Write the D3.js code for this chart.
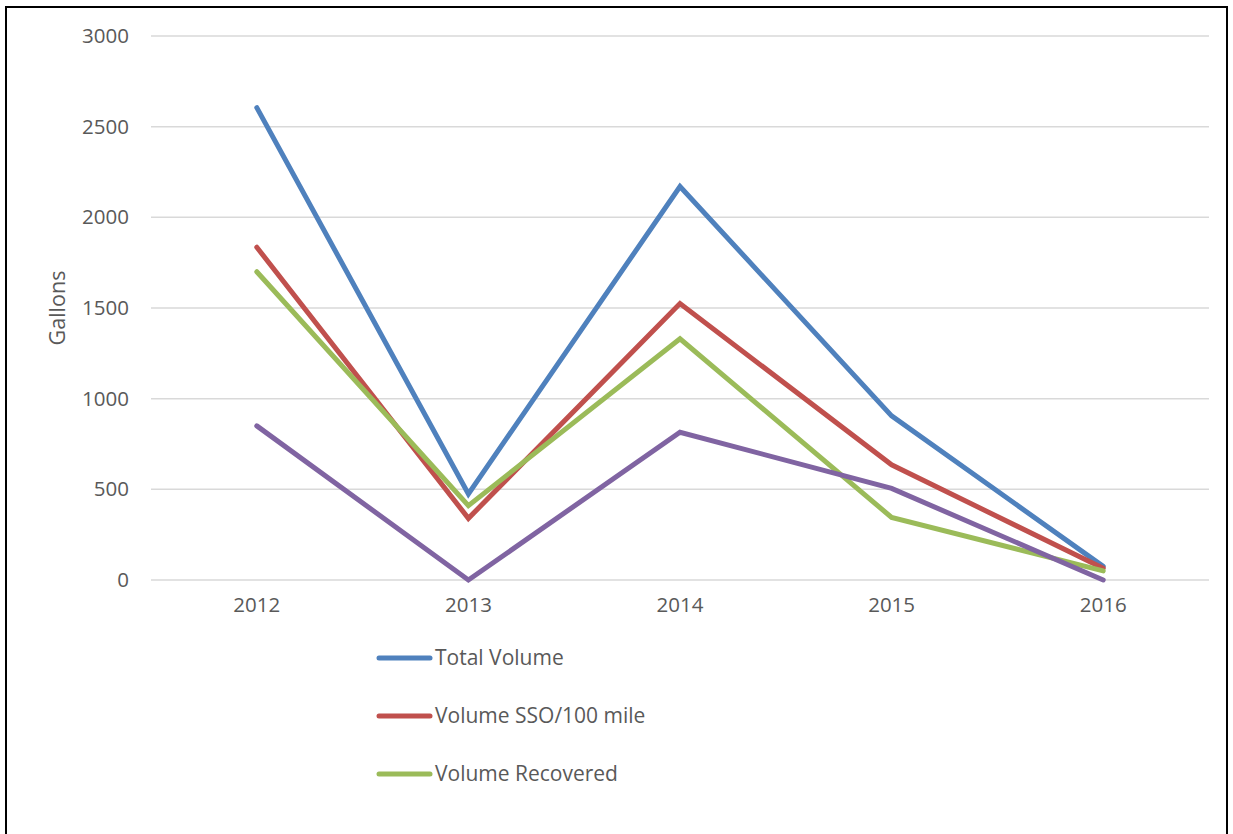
<!DOCTYPE html>
<html><head><meta charset="utf-8">
<script src="https://cdn.jsdelivr.net/npm/d3@7"></script>
<style>body{margin:0;background:#fff}svg{display:block}</style>
</head><body>
<script>
const categories = ["2012","2013","2014","2015","2016"];
const totalVolume = [2605, 475, 2170, 905, 75];
const volumeSSO = [1835, 340, 1525, 635, 65];
const volumeRecovered = [1700, 410, 1330, 345, 50];
const volumeOther = [850, 0, 815, 505, 0];
const yTicks = [0, 500, 1000, 1500, 2000, 2500, 3000];
const seriesNames = ["Total Volume", "Volume SSO/100 mile", "Volume Recovered", ""];
const seriesColors = ["#4F81BD", "#C0504D", "#9BBB59", "#8064A2"];
const seriesData = [totalVolume, volumeSSO, volumeRecovered, volumeOther];

const W = 1233, H = 834;
const svg = d3.select("body").append("svg").attr("width", W).attr("height", H);
const font = "'Open Sans', sans-serif";
const txt = "#595959";

svg.append("rect").attr("x", 6).attr("y", 7).attr("width", 1221).attr("height", 900)
  .attr("fill", "none").attr("stroke", "#000").attr("stroke-width", 2);

const x = d3.scaleBand().domain(categories).range([151, 1209]);
const y = d3.scaleLinear().domain([0, 3000]).range([580, 36]);

const grid = svg.append("g");
grid.selectAll("line").data(yTicks).join("line")
  .attr("x1", 151).attr("x2", 1209)
  .attr("y1", d => y(d)).attr("y2", d => y(d))
  .attr("stroke", "#d9d9d9").attr("stroke-width", 1.5);

const yAxis = d3.axisLeft(y).tickValues(yTicks).tickFormat(d3.format("d")).tickSize(0).tickPadding(0);
const ya = svg.append("g").attr("transform", "translate(129,0)").call(yAxis);
ya.select(".domain").remove();
ya.selectAll("text").attr("font-family", font).attr("font-size", 20.5).attr("fill", txt);

const xAxis = d3.axisBottom(x).tickSize(0).tickPadding(0);
const xa = svg.append("g").attr("transform", "translate(0,597)").call(xAxis);
xa.select(".domain").remove();
xa.selectAll("text").attr("font-family", font).attr("font-size", 20.5).attr("fill", txt).attr("dy", "0.71em");

svg.append("text").attr("transform", "translate(65,308) rotate(-90)")
  .attr("text-anchor", "middle").attr("font-family", font).attr("font-size", 21.5)
  .attr("fill", txt).text("Gallons");

const line = d3.line().x((d, i) => x(categories[i]) + x.bandwidth() / 2).y(d => y(d));
svg.append("g").selectAll("path").data(seriesData).join("path")
  .attr("d", d => line(d)).attr("fill", "none")
  .attr("stroke", (d, i) => seriesColors[i]).attr("stroke-width", 5)
  .attr("stroke-linecap", "round").attr("stroke-linejoin", "miter");

const leg = svg.append("g");
[0, 1, 2].forEach(i => {
  const yy = 658 + i * 58;
  leg.append("line").attr("x1", 379).attr("x2", 430).attr("y1", yy).attr("y2", yy)
    .attr("stroke", seriesColors[i]).attr("stroke-width", 5).attr("stroke-linecap", "round");
  leg.append("text").attr("x", 435).attr("y", yy).attr("dy", "0.35em")
    .attr("font-family", font).attr("font-size", 21).attr("fill", txt).text(seriesNames[i]);
});
</script>
</body></html>
